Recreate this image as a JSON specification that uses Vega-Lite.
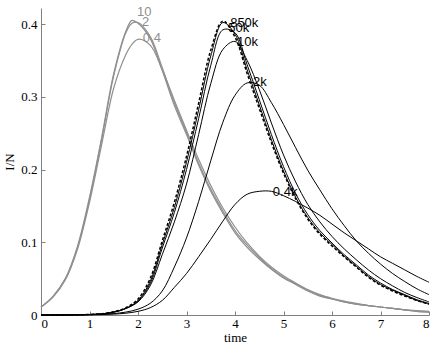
{
"$schema": "https://vega.github.io/schema/vega-lite/v6.json",
"width": 388, "height": 307,
"autosize": {"type": "none"},
"padding": {"left": 41, "top": 8, "right": 7, "bottom": 33},
"background": "white",
"config": {"view": {"stroke": null},
 "axis": {"grid": false, "domainColor": "#808080", "tickColor": "#808080", "tickSize": -4, "labelFont": "Liberation Serif", "labelFontSize": 13, "labelColor": "#000", "titleFont": "Liberation Serif", "titleFontSize": 13, "titleFontWeight": "normal", "titleColor": "#000"}},
"datasets": {
"grey": [
{"s":"g10","t":0,"v":0.011},{"s":"g10","t":0.25,"v":0.026},{"s":"g10","t":0.5,"v":0.05},{"s":"g10","t":0.75,"v":0.094},{"s":"g10","t":1,"v":0.162},{"s":"g10","t":1.25,"v":0.244},{"s":"g10","t":1.5,"v":0.332},{"s":"g10","t":1.75,"v":0.39},{"s":"g10","t":1.875,"v":0.405},{"s":"g10","t":2,"v":0.401},{"s":"g10","t":2.25,"v":0.38},{"s":"g10","t":2.5,"v":0.336},{"s":"g10","t":2.75,"v":0.288},{"s":"g10","t":3,"v":0.248},{"s":"g10","t":3.25,"v":0.206},{"s":"g10","t":3.5,"v":0.17},{"s":"g10","t":3.75,"v":0.14},{"s":"g10","t":4,"v":0.113},{"s":"g10","t":4.25,"v":0.093},{"s":"g10","t":4.5,"v":0.077},{"s":"g10","t":4.75,"v":0.063},{"s":"g10","t":5,"v":0.051},{"s":"g10","t":5.25,"v":0.042},{"s":"g10","t":5.5,"v":0.033},{"s":"g10","t":5.75,"v":0.026},{"s":"g10","t":6,"v":0.022},{"s":"g10","t":6.25,"v":0.018},{"s":"g10","t":6.5,"v":0.015},{"s":"g10","t":6.75,"v":0.013},{"s":"g10","t":7,"v":0.011},{"s":"g10","t":7.25,"v":0.009},{"s":"g10","t":7.5,"v":0.007},{"s":"g10","t":7.75,"v":0.005},{"s":"g10","t":8,"v":0.004},
{"s":"g2","t":0,"v":0.011},{"s":"g2","t":0.25,"v":0.025},{"s":"g2","t":0.5,"v":0.049},{"s":"g2","t":0.75,"v":0.092},{"s":"g2","t":1,"v":0.159},{"s":"g2","t":1.25,"v":0.241},{"s":"g2","t":1.5,"v":0.329},{"s":"g2","t":1.75,"v":0.388},{"s":"g2","t":1.875,"v":0.401},{"s":"g2","t":2,"v":0.402},{"s":"g2","t":2.25,"v":0.383},{"s":"g2","t":2.5,"v":0.34},{"s":"g2","t":2.75,"v":0.292},{"s":"g2","t":3,"v":0.251},{"s":"g2","t":3.25,"v":0.209},{"s":"g2","t":3.5,"v":0.173},{"s":"g2","t":3.75,"v":0.143},{"s":"g2","t":4,"v":0.116},{"s":"g2","t":4.25,"v":0.096},{"s":"g2","t":4.5,"v":0.079},{"s":"g2","t":4.75,"v":0.064},{"s":"g2","t":5,"v":0.052},{"s":"g2","t":5.25,"v":0.043},{"s":"g2","t":5.5,"v":0.034},{"s":"g2","t":5.75,"v":0.027},{"s":"g2","t":6,"v":0.022},{"s":"g2","t":6.25,"v":0.018},{"s":"g2","t":6.5,"v":0.015},{"s":"g2","t":6.75,"v":0.013},{"s":"g2","t":7,"v":0.011},{"s":"g2","t":7.25,"v":0.009},{"s":"g2","t":7.5,"v":0.007},{"s":"g2","t":7.75,"v":0.005},{"s":"g2","t":8,"v":0.004},
{"s":"g04","t":0,"v":0.011},{"s":"g04","t":0.25,"v":0.025},{"s":"g04","t":0.5,"v":0.048},{"s":"g04","t":0.75,"v":0.09},{"s":"g04","t":1,"v":0.155},{"s":"g04","t":1.25,"v":0.234},{"s":"g04","t":1.5,"v":0.312},{"s":"g04","t":1.75,"v":0.358},{"s":"g04","t":1.875,"v":0.372},{"s":"g04","t":2,"v":0.379},{"s":"g04","t":2.25,"v":0.371},{"s":"g04","t":2.5,"v":0.337},{"s":"g04","t":2.75,"v":0.295},{"s":"g04","t":3,"v":0.254},{"s":"g04","t":3.25,"v":0.214},{"s":"g04","t":3.5,"v":0.178},{"s":"g04","t":3.75,"v":0.147},{"s":"g04","t":4,"v":0.121},{"s":"g04","t":4.25,"v":0.099},{"s":"g04","t":4.5,"v":0.081},{"s":"g04","t":4.75,"v":0.066},{"s":"g04","t":5,"v":0.054},{"s":"g04","t":5.25,"v":0.044},{"s":"g04","t":5.5,"v":0.035},{"s":"g04","t":5.75,"v":0.028},{"s":"g04","t":6,"v":0.023},{"s":"g04","t":6.25,"v":0.019},{"s":"g04","t":6.5,"v":0.016},{"s":"g04","t":6.75,"v":0.013},{"s":"g04","t":7,"v":0.011},{"s":"g04","t":7.25,"v":0.009},{"s":"g04","t":7.5,"v":0.007},{"s":"g04","t":7.75,"v":0.006},{"s":"g04","t":8,"v":0.005}
],
"black": [
{"s":"k850","t":0,"v":0},{"s":"k850","t":0.25,"v":0},{"s":"k850","t":0.5,"v":0.0001},{"s":"k850","t":0.75,"v":0.0003},{"s":"k850","t":1,"v":0.0007},{"s":"k850","t":1.25,"v":0.0015},{"s":"k850","t":1.5,"v":0.004},{"s":"k850","t":1.75,"v":0.009},{"s":"k850","t":2,"v":0.02},{"s":"k850","t":2.25,"v":0.046},{"s":"k850","t":2.5,"v":0.097},{"s":"k850","t":2.75,"v":0.148},{"s":"k850","t":3,"v":0.21},{"s":"k850","t":3.25,"v":0.282},{"s":"k850","t":3.5,"v":0.356},{"s":"k850","t":3.75,"v":0.402},{"s":"k850","t":4,"v":0.386},{"s":"k850","t":4.25,"v":0.337},{"s":"k850","t":4.5,"v":0.289},{"s":"k850","t":4.75,"v":0.241},{"s":"k850","t":5,"v":0.198},{"s":"k850","t":5.25,"v":0.162},{"s":"k850","t":5.5,"v":0.134},{"s":"k850","t":5.75,"v":0.113},{"s":"k850","t":6,"v":0.097},{"s":"k850","t":6.25,"v":0.081},{"s":"k850","t":6.5,"v":0.067},{"s":"k850","t":6.75,"v":0.053},{"s":"k850","t":7,"v":0.042},{"s":"k850","t":7.25,"v":0.034},{"s":"k850","t":7.5,"v":0.027},{"s":"k850","t":7.75,"v":0.02},{"s":"k850","t":8,"v":0.015},
{"s":"k50","t":0,"v":0},{"s":"k50","t":0.25,"v":0},{"s":"k50","t":0.5,"v":0.0001},{"s":"k50","t":0.75,"v":0.0003},{"s":"k50","t":1,"v":0.0007},{"s":"k50","t":1.25,"v":0.0015},{"s":"k50","t":1.5,"v":0.004},{"s":"k50","t":1.75,"v":0.009},{"s":"k50","t":2,"v":0.019},{"s":"k50","t":2.25,"v":0.043},{"s":"k50","t":2.5,"v":0.092},{"s":"k50","t":2.75,"v":0.141},{"s":"k50","t":3,"v":0.2},{"s":"k50","t":3.25,"v":0.27},{"s":"k50","t":3.5,"v":0.343},{"s":"k50","t":3.75,"v":0.392},{"s":"k50","t":4,"v":0.388},{"s":"k50","t":4.25,"v":0.344},{"s":"k50","t":4.5,"v":0.296},{"s":"k50","t":4.75,"v":0.248},{"s":"k50","t":5,"v":0.204},{"s":"k50","t":5.25,"v":0.167},{"s":"k50","t":5.5,"v":0.138},{"s":"k50","t":5.75,"v":0.116},{"s":"k50","t":6,"v":0.099},{"s":"k50","t":6.25,"v":0.083},{"s":"k50","t":6.5,"v":0.069},{"s":"k50","t":6.75,"v":0.055},{"s":"k50","t":7,"v":0.044},{"s":"k50","t":7.25,"v":0.035},{"s":"k50","t":7.5,"v":0.028},{"s":"k50","t":7.75,"v":0.021},{"s":"k50","t":8,"v":0.016},
{"s":"k10","t":0,"v":0},{"s":"k10","t":0.25,"v":0},{"s":"k10","t":0.5,"v":0.0001},{"s":"k10","t":0.75,"v":0.0003},{"s":"k10","t":1,"v":0.0007},{"s":"k10","t":1.25,"v":0.0015},{"s":"k10","t":1.5,"v":0.004},{"s":"k10","t":1.75,"v":0.009},{"s":"k10","t":2,"v":0.018},{"s":"k10","t":2.25,"v":0.04},{"s":"k10","t":2.5,"v":0.083},{"s":"k10","t":2.75,"v":0.128},{"s":"k10","t":3,"v":0.18},{"s":"k10","t":3.25,"v":0.248},{"s":"k10","t":3.5,"v":0.318},{"s":"k10","t":3.75,"v":0.365},{"s":"k10","t":4,"v":0.376},{"s":"k10","t":4.25,"v":0.35},{"s":"k10","t":4.5,"v":0.31},{"s":"k10","t":4.75,"v":0.264},{"s":"k10","t":5,"v":0.22},{"s":"k10","t":5.25,"v":0.183},{"s":"k10","t":5.5,"v":0.152},{"s":"k10","t":5.75,"v":0.128},{"s":"k10","t":6,"v":0.108},{"s":"k10","t":6.25,"v":0.091},{"s":"k10","t":6.5,"v":0.076},{"s":"k10","t":6.75,"v":0.062},{"s":"k10","t":7,"v":0.05},{"s":"k10","t":7.25,"v":0.04},{"s":"k10","t":7.5,"v":0.031},{"s":"k10","t":7.75,"v":0.024},{"s":"k10","t":8,"v":0.018},
{"s":"k2","t":0,"v":0},{"s":"k2","t":0.25,"v":0},{"s":"k2","t":0.5,"v":0.0001},{"s":"k2","t":0.75,"v":0.0002},{"s":"k2","t":1,"v":0.0005},{"s":"k2","t":1.25,"v":0.001},{"s":"k2","t":1.5,"v":0.002},{"s":"k2","t":1.75,"v":0.004},{"s":"k2","t":2,"v":0.008},{"s":"k2","t":2.25,"v":0.016},{"s":"k2","t":2.5,"v":0.033},{"s":"k2","t":2.75,"v":0.066},{"s":"k2","t":3,"v":0.106},{"s":"k2","t":3.25,"v":0.156},{"s":"k2","t":3.5,"v":0.212},{"s":"k2","t":3.75,"v":0.265},{"s":"k2","t":4,"v":0.302},{"s":"k2","t":4.25,"v":0.319},{"s":"k2","t":4.5,"v":0.316},{"s":"k2","t":4.75,"v":0.292},{"s":"k2","t":5,"v":0.262},{"s":"k2","t":5.25,"v":0.23},{"s":"k2","t":5.5,"v":0.199},{"s":"k2","t":5.75,"v":0.172},{"s":"k2","t":6,"v":0.146},{"s":"k2","t":6.25,"v":0.123},{"s":"k2","t":6.5,"v":0.102},{"s":"k2","t":6.75,"v":0.085},{"s":"k2","t":7,"v":0.07},{"s":"k2","t":7.25,"v":0.057},{"s":"k2","t":7.5,"v":0.046},{"s":"k2","t":7.75,"v":0.036},{"s":"k2","t":8,"v":0.028},
{"s":"k04","t":0,"v":0},{"s":"k04","t":0.25,"v":0},{"s":"k04","t":0.5,"v":0},{"s":"k04","t":0.75,"v":0.0001},{"s":"k04","t":1,"v":0.0003},{"s":"k04","t":1.25,"v":0.0006},{"s":"k04","t":1.5,"v":0.0012},{"s":"k04","t":1.75,"v":0.0025},{"s":"k04","t":2,"v":0.005},{"s":"k04","t":2.25,"v":0.01},{"s":"k04","t":2.5,"v":0.02},{"s":"k04","t":2.75,"v":0.038},{"s":"k04","t":3,"v":0.057},{"s":"k04","t":3.25,"v":0.08},{"s":"k04","t":3.5,"v":0.104},{"s":"k04","t":3.75,"v":0.129},{"s":"k04","t":4,"v":0.152},{"s":"k04","t":4.25,"v":0.166},{"s":"k04","t":4.5,"v":0.17},{"s":"k04","t":4.75,"v":0.17},{"s":"k04","t":5,"v":0.164},{"s":"k04","t":5.25,"v":0.156},{"s":"k04","t":5.5,"v":0.147},{"s":"k04","t":5.75,"v":0.137},{"s":"k04","t":6,"v":0.125},{"s":"k04","t":6.25,"v":0.113},{"s":"k04","t":6.5,"v":0.102},{"s":"k04","t":6.75,"v":0.091},{"s":"k04","t":7,"v":0.08},{"s":"k04","t":7.25,"v":0.071},{"s":"k04","t":7.5,"v":0.062},{"s":"k04","t":7.75,"v":0.053},{"s":"k04","t":8,"v":0.045}
],
"dashed": [
{"s":"kd","t":0,"v":0},{"s":"kd","t":0.25,"v":0},{"s":"kd","t":0.5,"v":0.0001},{"s":"kd","t":0.75,"v":0.0003},{"s":"kd","t":1,"v":0.0007},{"s":"kd","t":1.25,"v":0.0016},{"s":"kd","t":1.5,"v":0.0045},{"s":"kd","t":1.75,"v":0.01},{"s":"kd","t":2,"v":0.022},{"s":"kd","t":2.25,"v":0.05},{"s":"kd","t":2.5,"v":0.102},{"s":"kd","t":2.75,"v":0.155},{"s":"kd","t":3,"v":0.218},{"s":"kd","t":3.25,"v":0.291},{"s":"kd","t":3.5,"v":0.364},{"s":"kd","t":3.75,"v":0.404},{"s":"kd","t":4,"v":0.382},{"s":"kd","t":4.25,"v":0.332},{"s":"kd","t":4.5,"v":0.284},{"s":"kd","t":4.75,"v":0.237},{"s":"kd","t":5,"v":0.195},{"s":"kd","t":5.25,"v":0.16},{"s":"kd","t":5.5,"v":0.132},{"s":"kd","t":5.75,"v":0.111},{"s":"kd","t":6,"v":0.095},{"s":"kd","t":6.25,"v":0.08},{"s":"kd","t":6.5,"v":0.066},{"s":"kd","t":6.75,"v":0.052},{"s":"kd","t":7,"v":0.041},{"s":"kd","t":7.25,"v":0.033},{"s":"kd","t":7.5,"v":0.026},{"s":"kd","t":7.75,"v":0.02},{"s":"kd","t":8,"v":0.015}
],
"greyLabels": [
{"label":"10","t":1.98,"v":0.416},
{"label":"2","t":2.08,"v":0.403},
{"label":"0.4","t":2.1,"v":0.381}
],
"blackLabels": [
{"label":"850k","t":3.9,"v":0.401},
{"label":"50k","t":3.86,"v":0.394},
{"label":"10k","t":4.04,"v":0.375},
{"label":"2k","t":4.37,"v":0.32},
{"label":"0.4k","t":4.78,"v":0.169}
]
},
"encoding": {
 "x": {"field": "t", "type": "quantitative", "scale": {"domain": [0, 8], "nice": false}, "axis": {"values": [0,1,2,3,4,5,6,7,8], "title": "time", "labelPadding": 6, "titlePadding": 1}},
 "y": {"field": "v", "type": "quantitative", "scale": {"domain": [0, 0.422], "nice": false}, "axis": {"values": [0,0.1,0.2,0.3,0.4], "format": ".1~f", "title": "I/N", "labelPadding": 8, "titlePadding": 4}}
},
"layer": [
 {"data": {"name": "grey"}, "mark": {"type": "line", "interpolate": "catmull-rom", "color": "#8f8f8f", "strokeWidth": 1.2}, "encoding": {"detail": {"field": "s"}}},
 {"data": {"name": "black"}, "mark": {"type": "line", "interpolate": "catmull-rom", "color": "#000", "strokeWidth": 1}, "encoding": {"detail": {"field": "s"}}},
 {"data": {"name": "dashed"}, "mark": {"type": "line", "interpolate": "catmull-rom", "color": "#000", "strokeWidth": 1.5, "strokeDash": [3, 2]}, "encoding": {}},
 {"data": {"name": "greyLabels"}, "mark": {"type": "text", "align": "left", "baseline": "middle", "font": "Liberation Sans", "fontSize": 13, "color": "#8f8f8f"}, "encoding": {"text": {"field": "label"}}},
 {"data": {"name": "blackLabels"}, "mark": {"type": "text", "align": "left", "baseline": "middle", "font": "Liberation Sans", "fontSize": 13, "color": "#000"}, "encoding": {"text": {"field": "label"}}}
]
}
